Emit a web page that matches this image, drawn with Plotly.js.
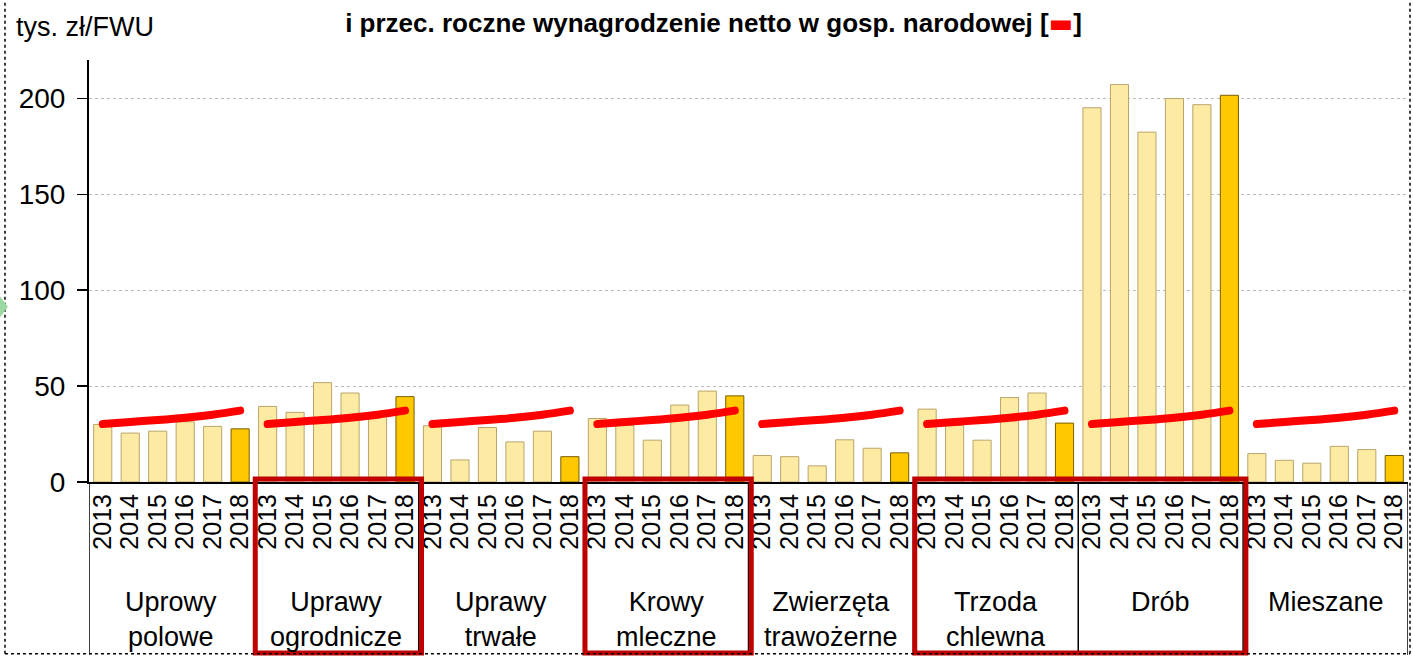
<!DOCTYPE html>
<html><head><meta charset="utf-8">
<script src="https://cdn.plot.ly/plotly-3.0.1.min.js"></script>
<style>
html,body{margin:0;padding:0;background:#fff;}
.scatterlayer .js-line{stroke-linecap:round !important;}
</style>
</head><body>
<div id="chart" style="width:1413px;height:656px;"></div>
<script>
// ---- data ----
const groups = ["Uprowy<br>polowe","Uprawy<br>ogrodnicze","Uprawy<br>trwałe","Krowy<br>mleczne","Zwierzęta<br>trawożerne","Trzoda<br>chlewna","Drób","Mieszane"];
const years = ["2013","2014","2015","2016","2017","2018"];
const incomeUprowyPolowe      = [30, 25.5, 26.5, 31.4, 29, 27.7];
const incomeUprawyOgrodnicze  = [39.4, 36.3, 51.8, 46.4, 35, 44.5];
const incomeUprawyTrwale      = [29.3, 11.5, 28.4, 20.9, 26.5, 13.2];
const incomeKrowyMleczne      = [33.1, 29.5, 21.8, 40.1, 47.4, 44.9];
const incomeZwierzeta         = [13.8, 13.2, 8.4, 22, 17.6, 15.2];
const incomeTrzoda            = [38, 29.5, 21.8, 44, 46.4, 30.7];
const incomeDrob              = [195.1, 207.2, 182.4, 199.9, 196.7, 201.6];
const incomeMieszane          = [14.8, 11.3, 9.8, 18.6, 16.9, 13.8];
const netWage                 = [30.2, 31.3, 32.3, 33.5, 35.1, 37.2];
const yTicks = [0, 50, 100, 150, 200];
const boxedGroups = [[1,1],[3,3],[5,6]]; // group index ranges with red frames

const seriesByGroup = [incomeUprowyPolowe, incomeUprawyOgrodnicze, incomeUprawyTrwale, incomeKrowyMleczne, incomeZwierzeta, incomeTrzoda, incomeDrob, incomeMieszane];

// ---- build ----
const cats = [], vals = [], colors = [], lineColors = [], tickText = [];
groups.forEach((g, gi) => {
  years.forEach((y, yi) => {
    cats.push(gi + "|" + y);
    vals.push(seriesByGroup[gi][yi]);
    tickText.push(y);
    const last = yi === years.length - 1;
    colors.push(last ? "#FFC800" : "#FDEBA4");
    lineColors.push(last ? "#7A5E00" : "#B9A56A");
  });
});

const traces = [{
  type: "bar", x: cats, y: vals,
  marker: {color: colors, line: {color: lineColors, width: 1}},
  hoverinfo: "y", showlegend: false
}];
groups.forEach((g, gi) => {
  traces.push({
    type: "scatter", mode: "lines",
    x: years.map(y => gi + "|" + y), y: netWage,
    line: {color: "#FF0000", width: 8, shape: "spline"},
    hoverinfo: "y", showlegend: false
  });
});

const FONT = "'Liberation Sans Narrow', 'Arial Narrow', 'Liberation Sans', Arial, sans-serif";
const n = years.length;
const shapes = [];
const annotations = [];
// dividers
for (let gi = 0; gi <= groups.length; gi++) {
  shapes.push({type: "line", xref: "x", yref: "paper", x0: gi*n - 0.5, x1: gi*n - 0.5, y0: 0, y1: -0.41, line: {color: "#000", width: 1.5}});
}
// group labels
groups.forEach((g, gi) => {
  annotations.push({xref: "x", yref: "paper", x: gi*n + (n-1)/2, y: -0.245, yanchor: "top", xanchor: "center",
    text: g, showarrow: false, font: {family: FONT, size: 27, color: "#000"}});
});
// red frames
boxedGroups.forEach(([a, b]) => {
  shapes.push({type: "rect", xref: "x", yref: "paper", x0: a*n - 0.45, x1: (b+1)*n - 0.4, y0: 0.007, y1: -0.405,
    line: {color: "#C00000", width: 5}, fillcolor: "rgba(0,0,0,0)"});
});
// dotted frame
shapes.push({type: "line", xref: "paper", yref: "paper", x0: -0.0637, x1: -0.0637, y0: 1.15, y1: -0.41, line: {color: "#000", width: 1.5, dash: "dot"}});
shapes.push({type: "line", xref: "paper", yref: "paper", x0: 1.0015, x1: 1.0015, y0: 1.15, y1: -0.41, line: {color: "#000", width: 1.5, dash: "dot"}});
shapes.push({type: "line", xref: "paper", yref: "paper", x0: -0.0637, x1: 1.0015, y0: -0.407, y1: -0.407, line: {color: "#000", width: 1.5, dash: "dot"}});
// small green marker at left edge
shapes.push({type: "path", xref: "paper", yref: "paper", path: "M -0.0675 0.44 L -0.0615 0.415 L -0.0675 0.39 Z", fillcolor: "#9AD9A0", line: {width: 0}});

annotations.push({xref: "paper", yref: "paper", x: -0.0569, y: 1.079, xanchor: "left", yanchor: "middle",
  text: "tys. zł/FWU", showarrow: false, font: {family: FONT, size: 27, color: "#000"}});

const layout = {
  width: 1413, height: 656,
  margin: {l: 89, r: 5, t: 60, b: 174},
  paper_bgcolor: "#fff", plot_bgcolor: "#fff",
  bargap: 0.34,
  title: {text: "i przec. roczne wynagrodzenie netto w gosp. narodowej [<span style='color:#FF0000;font-family:DejaVu Sans'>▬</span>]",
    x: 0.505, xref: "container", xanchor: "center", y: 0.965, yref: "container", yanchor: "middle",
    font: {family: FONT, size: 26, color: "#000", weight: "bold"}},
  xaxis: {type: "category", tickvals: cats, ticktext: tickText, tickangle: -90,
    tickfont: {family: "'Liberation Sans', Arial, sans-serif", size: 25, color: "#000"},
    showline: true, linecolor: "#000", linewidth: 2, ticks: "", showgrid: false,
    range: [-0.5, cats.length - 0.5], fixedrange: true, automargin: false},
  yaxis: {range: [0, 220], tickvals: yTicks, ticktext: yTicks.map(String),
    tickfont: {family: FONT, size: 28, color: "#000"}, ticklabelstandoff: 6,
    showline: true, linecolor: "#000", linewidth: 2, ticks: "outside", ticklen: 10, tickcolor: "#000", tickwidth: 1.5,
    showgrid: true, gridcolor: "#BBBBBB", griddash: "dot", gridwidth: 1,
    zeroline: false, automargin: false},
  shapes: shapes, annotations: annotations,
  showlegend: false
};
Plotly.newPlot("chart", traces, layout, {displayModeBar: false, staticPlot: true});
</script>
</body></html>
